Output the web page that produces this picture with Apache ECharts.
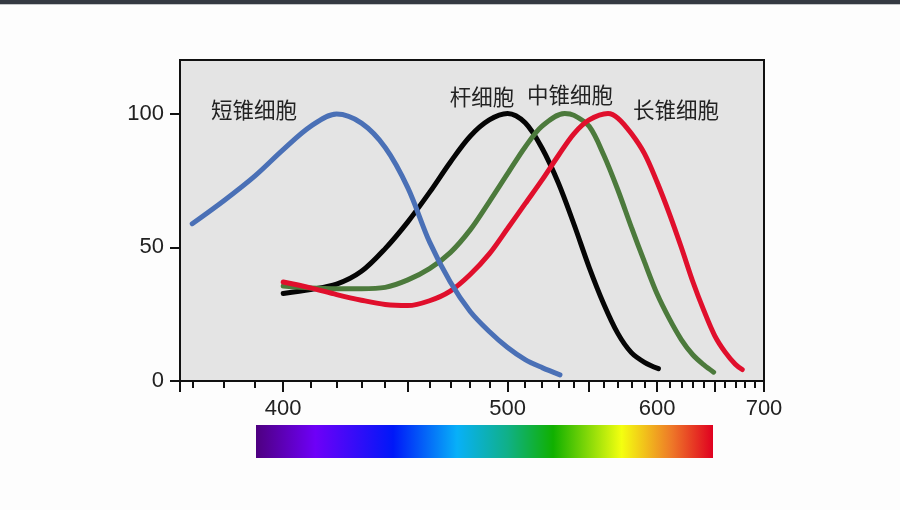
<!DOCTYPE html>
<html>
<head>
<meta charset="utf-8">
<script src="https://cdn.jsdelivr.net/npm/echarts@6/dist/echarts.min.js"></script>
<style>
  html, body { margin: 0; padding: 0; background: #fdfdfd; }
  #main { width: 900px; height: 510px; }
</style>
</head>
<body>
<div id="main"></div>
<script>
// wavelengths in nm, sensitivity in % of peak
const sWave = [370, 380, 390, 400, 410, 420, 430, 440, 450, 460, 470, 480, 490, 500, 510, 520, 531];
const sVals = [58.8, 67.5, 76.5, 86.5, 95.2, 99.8, 96.4, 87.3, 72.2, 52, 37, 26, 18.5, 12.5, 8, 5, 2.3];

const rodWave = [400, 410, 420, 430, 440, 450, 460, 470, 480, 490, 500, 510, 520, 530, 540, 550, 560, 570, 580, 590, 601];
const rodVals = [32.7, 34.2, 36.2, 41, 49.5, 59.5, 70.5, 81.8, 91.5, 97.6, 100, 96.5, 87, 74, 58.5, 42.5, 28.8, 17.8, 10.6, 7, 4.6];

const mWave = [400, 410, 420, 430, 440, 450, 460, 470, 480, 490, 500, 510, 520, 534, 540, 550, 560, 570, 580, 590, 600, 610, 620, 630, 640, 649];
const mVals = [35.5, 34.8, 34.5, 34.5, 35, 37.8, 42, 48, 56.5, 67, 77.5, 87.5, 95.3, 100, 99.3, 95.2, 84.5, 71.5, 57.5, 44.5, 32.5, 23.2, 15.5, 9.8, 6, 3.3];

const lWave = [400, 410, 420, 430, 440, 450, 460, 470, 480, 490, 500, 510, 520, 530, 540, 550, 563, 570, 580, 590, 600, 610, 620, 630, 640, 650, 660, 670, 677];
const lVals = [37, 34.8, 32.3, 30.2, 28.6, 28.2, 30, 33.6, 39.8, 47.5, 57, 66.3, 75.2, 84.3, 92.5, 97.6, 100, 98.3, 92.5, 85, 74.3, 62.5, 50, 37.2, 26.3, 17, 10.8, 6.3, 4.3];

const minorTickWaves = [370, 380, 390, 410, 420, 430, 440, 460, 470, 480, 490, 510, 520, 530, 540, 560, 570, 580, 590, 610, 620, 630, 640, 660, 670, 680, 690];
const majorTickWaves = [366.3, 400, 450, 500, 550, 600, 650, 700];
const labelWaves = [400, 500, 600, 700];
const yTicks = [0, 50, 100];

const seriesNames = ['杆细胞', '中锥细胞', '长锥细胞', '短锥细胞'];

// axis runs linear in wavenumber (1/λ)
const toU = w => 1e7 / w;
const pairs = (ws, vs) => ws.map((w, i) => [toU(w), vs[i]]);

const chart = echarts.init(document.getElementById('main'));

const xBase = {
  type: 'value',
  position: 'bottom',
  inverse: true,
  min: toU(700),
  max: toU(366.3),
  splitLine: { show: false }
};

const lineSeries = (name, ws, vs, color) => ({
  name,
  type: 'line',
  data: pairs(ws, vs),
  smooth: 0.33,
  showSymbol: false,
  lineStyle: { color, width: 5, cap: 'round' },
  silent: true
});

const cellLabel = (i, x, y) => ({
  type: 'text', x, y,
  style: {
    text: seriesNames[i], fontFamily: 'Noto Sans CJK SC', fontSize: 21.5,
    fill: '#222', align: 'center', verticalAlign: 'middle'
  }
});

chart.setOption({
  backgroundColor: '#fdfdfd',
  animation: false,
  grid: {
    left: 180, right: 136, top: 60, bottom: 129,
    show: true,
    backgroundColor: '#e4e4e4',
    borderColor: '#111',
    borderWidth: 2
  },
  xAxis: [
    Object.assign({}, xBase, {
      axisLine: { lineStyle: { color: '#111', width: 2 } },
      axisTick: { customValues: minorTickWaves.map(toU), length: 7, lineStyle: { color: '#111', width: 2 } },
      axisLabel: { show: false }
    }),
    Object.assign({}, xBase, {
      axisLine: { show: false },
      axisTick: { customValues: majorTickWaves.map(toU), length: 11, lineStyle: { color: '#111', width: 2 } },
      axisLabel: {
        customValues: labelWaves.map(toU),
        formatter: v => Math.round(1e7 / v),
        fontFamily: 'Liberation Sans',
        fontSize: 22,
        color: '#222',
        margin: 17
      }
    })
  ],
  yAxis: {
    type: 'value',
    min: 0,
    max: 120,
    axisLine: { show: true, lineStyle: { color: '#111', width: 2 } },
    axisTick: { customValues: yTicks, length: 10, lineStyle: { color: '#111', width: 2 } },
    axisLabel: {
      customValues: yTicks,
      fontFamily: 'Liberation Sans',
      fontSize: 22,
      color: '#222',
      margin: 16
    },
    splitLine: { show: false }
  },
  series: [
    lineSeries(seriesNames[0], rodWave, rodVals, '#050505'),
    lineSeries(seriesNames[1], mWave, mVals, '#4c7a3c'),
    lineSeries(seriesNames[2], lWave, lVals, '#e00f2c'),
    lineSeries(seriesNames[3], sWave, sVals, '#4a70b6')
  ],
  graphic: [
    { type: 'rect', shape: { x: 0, y: 0, width: 900, height: 4 }, style: { fill: '#353a42' } },
    { type: 'rect', shape: { x: 0, y: 4, width: 900, height: 1 }, style: { fill: '#c4c6c8' } },
    {
      type: 'rect',
      shape: { x: 256, y: 425, width: 457, height: 33 },
      style: {
        fill: new echarts.graphic.LinearGradient(0, 0, 1, 0, [
          { offset: 0, color: '#4e0080' },
          { offset: 0.13, color: '#6e00f8' },
          { offset: 0.3, color: '#0018f8' },
          { offset: 0.44, color: '#08b0f8' },
          { offset: 0.55, color: '#10b088' },
          { offset: 0.65, color: '#10b000' },
          { offset: 0.8, color: '#f4ff10' },
          { offset: 0.91, color: '#ee7828' },
          { offset: 1, color: '#e00020' }
        ])
      }
    },
    cellLabel(3, 254, 110),
    cellLabel(0, 482, 97),
    cellLabel(1, 570, 95),
    cellLabel(2, 676, 110)
  ]
});
</script>
</body>
</html>
